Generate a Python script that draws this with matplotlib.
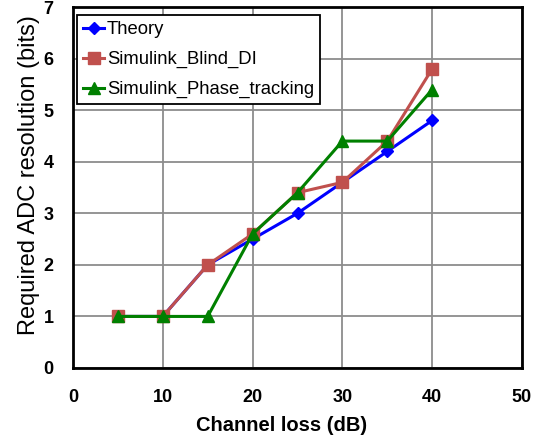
import matplotlib
matplotlib.use("Agg")
import matplotlib.pyplot as plt

plt.rcParams['font.family'] = ['Liberation Sans', 'DejaVu Sans']

channel_loss = [5, 10, 15, 20, 25, 30, 35, 40]
theory = [1, 1, 2, 2.5, 3, 3.6, 4.2, 4.8]
blind_di = [1, 1, 2, 2.6, 3.4, 3.6, 4.4, 5.8]
phase_tracking = [1, 1, 1, 2.6, 3.4, 4.4, 4.4, 5.4]

x_ticks = [0, 10, 20, 30, 40, 50]
y_ticks = [0, 1, 2, 3, 4, 5, 6, 7]

fig = plt.figure(figsize=(5.46, 4.45), dpi=100)
ax = fig.add_axes([73/546, 1 - 368/445, (522-73)/546, (368-7)/445])

ax.plot(channel_loss, theory, color='#0000FF', marker='D', markersize=6.5, linewidth=2.2, label='Theory', zorder=3)
ax.plot(channel_loss, blind_di, color='#C0504D', marker='s', markersize=9, linewidth=2.2, label='Simulink_Blind_DI', zorder=4)
ax.plot(channel_loss, phase_tracking, color='#008000', marker='^', markersize=9, linewidth=2.2, label='Simulink_Phase_tracking', zorder=5)

ax.set_xlim(0, 50)
ax.set_ylim(0, 7)
ax.set_xticks(x_ticks)
ax.set_yticks(y_ticks)
ax.tick_params(axis='both', length=0, labelsize=13)
ax.tick_params(axis='x', pad=15)
ax.tick_params(axis='y', pad=14)
for lab in ax.get_xticklabels() + ax.get_yticklabels():
    lab.set_fontweight('bold')
ax.grid(True, color='#8c8c8c', linewidth=1.3)
ax.set_axisbelow(True)
for s in ax.spines.values():
    s.set_linewidth(2)
    s.set_color('black')

ax.set_xlabel('Channel loss (dB)', fontsize=14.5, fontweight='bold')
ax.xaxis.set_label_coords((282-73)/449, -(416-368)/361)
ax.set_ylabel('Required ADC resolution (bits)', fontsize=17)
ax.yaxis.set_label_coords((40-73)/449, (368-175)/361)

leg = ax.legend(loc='upper left', bbox_to_anchor=((77-73)/449, (368-15)/361),
                fontsize=13.3, frameon=True, fancybox=False,
                edgecolor='black', framealpha=1, borderaxespad=0,
                handlelength=1.15, handletextpad=0.15, borderpad=0.33, labelspacing=0.7)
leg.get_frame().set_linewidth(1.3)

fig.savefig('out.png', dpi=100)
